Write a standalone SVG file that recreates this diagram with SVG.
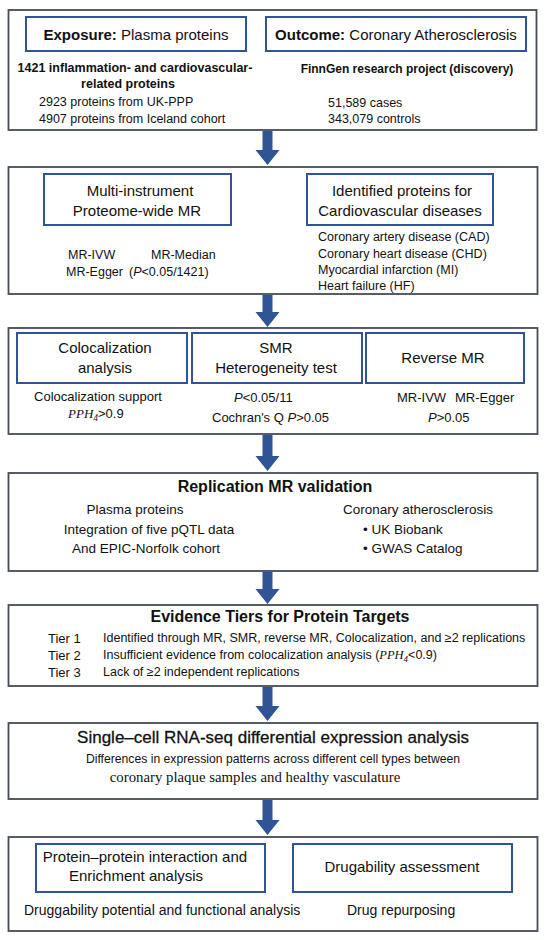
<svg xmlns="http://www.w3.org/2000/svg" width="550" height="940" viewBox="0 0 550 940">
<style>
text{font-family:"Liberation Sans",Arial,sans-serif;fill:#111;}
.outer{fill:#fff;stroke:#454c55;stroke-width:1.8;}
.inner{fill:#fff;stroke:#2f5597;stroke-width:2;}
.t15{font-size:15px;}
.t13{font-size:13px;}
.t125{font-size:12.5px;}
.t135{font-size:13.5px;}
.b{font-weight:bold;}
.semi{stroke:#111;stroke-width:0.3;}
.m{text-anchor:middle;}
.it{font-style:italic;}
.math{font-family:"Liberation Serif","Times New Roman",serif;font-style:italic;}
.arrow{fill:#2f5597;}
</style>
<rect width="550" height="940" fill="#fff"/>

<g id="connectors">
<path class="arrow" d="M262.5,131 H272.5 V150 H279.5 L267.5,165 L255.5,150 H262.5 Z"/>
<path class="arrow" d="M262.5,295 H272.5 V312 H279.5 L267.5,327 L255.5,312 H262.5 Z"/>
<path class="arrow" d="M262.5,435 H272.5 V456 H279.5 L267.5,471 L255.5,456 H262.5 Z"/>
<path class="arrow" d="M262.5,572 H272.5 V589 H279.5 L267.5,604 L255.5,589 H262.5 Z"/>
<path class="arrow" d="M262.5,687 H272.5 V706 H279.5 L267.5,721 L255.5,706 H262.5 Z"/>
<path class="arrow" d="M262.5,800 H272.5 V820 H279.5 L267.5,835 L255.5,820 H262.5 Z"/>
</g>

<g id="stage1">
<rect class="outer" x="8.5" y="10" width="528" height="120"/>
<g id="exposure">
<rect class="inner" x="26" y="17" width="220" height="34"/>
<text class="t15 m" x="136" y="39.5"><tspan class="b">Exposure:</tspan> Plasma proteins</text>
</g>
<g id="outcome">
<rect class="inner" x="266" y="17" width="260" height="34"/>
<text class="t15 m" x="396" y="39.5"><tspan class="b">Outcome:</tspan> Coronary Atherosclerosis</text>
</g>
<text class="t125 b m" x="135" y="72">1421 inflammation- and cardiovascular-</text>
<text class="t125 b m" x="128" y="87.5">related proteins</text>
<text class="t125" x="39" y="106">2923 proteins from UK-PPP</text>
<text class="t125" x="39" y="123">4907 proteins from Iceland cohort</text>
<text class="t125 b m" x="407" y="73" style="font-size:12px">FinnGen research project (discovery)</text>
<text class="t125" x="328" y="106.5">51,589 cases</text>
<text class="t125" x="328" y="123">343,079 controls</text>
</g>

<g id="stage2">
<rect class="outer" x="8.5" y="167" width="529" height="127"/>
<g id="multi-instrument-mr">
<rect class="inner" x="44" y="174" width="187" height="51"/>
<text class="t15 m" x="140" y="196">Multi-instrument</text>
<text class="t15 m" x="137" y="216">Proteome-wide MR</text>
</g>
<g id="identified-proteins">
<rect class="inner" x="307" y="174" width="186" height="51"/>
<text class="t15 m" x="402" y="196">Identified proteins for</text>
<text class="t15 m" x="400" y="216">Cardiovascular diseases</text>
</g>
<text class="t125" x="68" y="259">MR-IVW</text>
<text class="t125" x="151" y="259">MR-Median</text>
<text class="t125" x="66" y="276">MR-Egger</text>
<text class="t125" x="129" y="276">(<tspan class="it">P</tspan>&lt;0.05/1421)</text>
<text class="t125" x="318" y="241">Coronary artery disease (CAD)</text>
<text class="t125" x="318" y="258">Coronary heart disease (CHD)</text>
<text class="t125" x="318" y="274">Myocardial infarction (MI)</text>
<text class="t125" x="318" y="290">Heart failure (HF)</text>
</g>

<g id="stage3">
<rect class="outer" x="8.5" y="328" width="529" height="106"/>
<g id="colocalization">
<rect class="inner" x="17" y="333" width="170" height="50"/>
<text class="t15 m" x="105" y="353">Colocalization</text>
<text class="t15 m" x="105" y="373">analysis</text>
</g>
<g id="smr">
<rect class="inner" x="192" y="333" width="170" height="50"/>
<text class="t15 m" x="276" y="353">SMR</text>
<text class="t15 m" x="276" y="373">Heterogeneity test</text>
</g>
<g id="reverse-mr">
<rect class="inner" x="366" y="333" width="158" height="50"/>
<text class="t15 m" x="443" y="363">Reverse MR</text>
</g>
<text class="t13 m" x="98" y="401">Colocalization support</text>
<text class="t13" x="68" y="418"><tspan class="math">PPH</tspan><tspan class="math" font-size="9.5" dy="3">4</tspan><tspan dy="-3">&gt;0.9</tspan></text>
<text class="t13" x="234" y="402"><tspan class="it">P</tspan>&lt;0.05/11</text>
<text class="t13" x="212" y="422">Cochran's Q  <tspan class="it">P</tspan>&gt;0.05</text>
<text class="t13" x="397" y="402">MR-IVW</text>
<text class="t13" x="455" y="402">MR-Egger</text>
<text class="t13" x="428" y="422"><tspan class="it">P</tspan>&gt;0.05</text>
</g>

<g id="stage4">
<rect class="outer" x="8.5" y="473" width="529" height="98"/>
<text class="b m" x="275" y="492" style="font-size:16px">Replication MR validation</text>
<text class="t135 m" x="135" y="514">Plasma proteins</text>
<text class="t135 m" x="149" y="534">Integration of five pQTL data</text>
<text class="t135 m" x="146" y="553">And EPIC-Norfolk cohort</text>
<text class="t135 m" x="418" y="514">Coronary atherosclerosis</text>
<text class="t135" x="363" y="534">• UK Biobank</text>
<text class="t135" x="363" y="553">• GWAS Catalog</text>
</g>

<g id="stage5">
<rect class="outer" x="8.5" y="605" width="529" height="81"/>
<text class="b m" x="280" y="622" style="font-size:16px">Evidence Tiers for Protein Targets</text>
<text class="t13" x="48" y="643">Tier 1</text>
<text class="t13" x="48" y="660">Tier 2</text>
<text class="t13" x="48" y="677">Tier 3</text>
<text class="t125" x="103" y="642">Identified through MR, SMR, reverse MR, Colocalization, and ≥2 replications</text>
<text class="t125" x="103" y="659">Insufficient evidence from colocalization analysis (<tspan class="math">PPH</tspan><tspan class="math" font-size="9" dy="3">4</tspan><tspan dy="-3">&lt;0.9)</tspan></text>
<text class="t125" x="103" y="676">Lack of ≥2 independent replications</text>
</g>

<g id="stage6">
<rect class="outer" x="8.5" y="723" width="529" height="76"/>
<text class="semi m" x="273" y="743" style="font-size:17px">Single–cell RNA-seq differential expression analysis</text>
<text class="m" x="273" y="763" style="font-size:12.2px">Differences in expression patterns across different cell types between</text>
<text class="m" x="255" y="782" style="font-family:'Liberation Serif','Times New Roman',serif;font-size:14.8px">coronary plaque samples and healthy vasculature</text>
</g>

<g id="stage7">
<rect class="outer" x="8.5" y="837" width="529" height="94"/>
<g id="ppi-enrichment">
<rect class="inner" x="36" y="844" width="229" height="48"/>
<text class="t15 m" x="145" y="862">Protein–protein interaction and</text>
<text class="t15 m" x="136" y="881">Enrichment analysis</text>
</g>
<g id="drugability">
<rect class="inner" x="293" y="844" width="219" height="48"/>
<text class="t15 m" x="402" y="872">Drugability assessment</text>
</g>
<text x="24" y="915" style="font-size:14px">Druggability potential and functional analysis</text>
<text x="347" y="915" style="font-size:14px">Drug repurposing</text>
</g>
</svg>
